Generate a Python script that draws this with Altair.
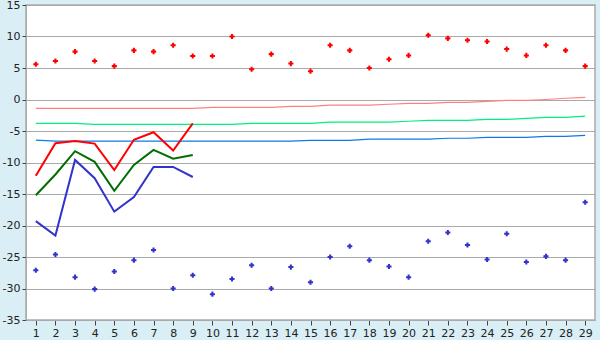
import altair as alt
import pandas as pd

days = list(range(1, 30))

# Daily extreme values (markers)
extreme_max = [5.6, 6.1, 7.6, 6.1, 5.3, 7.8, 7.6, 8.6, 6.9, 6.9, 10.0, 4.8, 7.2, 5.7,
               4.5, 8.6, 7.8, 5.0, 6.4, 7.0, 10.2, 9.7, 9.4, 9.2, 8.0, 7.0, 8.6, 7.8, 5.3]
extreme_min = [-27.1, -24.6, -28.2, -30.1, -27.3, -25.5, -23.9, -30.0, -27.9, -30.9, -28.5,
               -26.3, -30.0, -26.6, -29.0, -25.0, -23.3, -25.5, -26.5, -28.2, -22.5, -21.1,
               -23.1, -25.4, -21.3, -25.8, -24.9, -25.5, -16.3]

# Observed daily series (days 1-9)
obs_days = [1, 2, 3, 4, 5, 6, 7, 8, 9]
obs_max = [-12.1, -6.95, -6.6, -7.0, -11.2, -6.4, -5.2, -8.1, -3.8]
obs_mean = [-15.2, -11.9, -8.2, -9.9, -14.5, -10.4, -8.0, -9.4, -8.8]
obs_min = [-19.3, -21.6, -9.6, -12.5, -17.8, -15.5, -10.7, -10.7, -12.3]

# Normals
norm_max = [-1.4, -1.4, -1.4, -1.4, -1.4, -1.4, -1.4, -1.4, -1.4, -1.25, -1.25, -1.25, -1.25,
            -1.1, -1.1, -0.9, -0.9, -0.9, -0.75, -0.6, -0.6, -0.45, -0.45, -0.3, -0.15,
            -0.15, 0.0, 0.2, 0.35]
norm_mean = [-3.8, -3.8, -3.8, -3.95, -3.95, -3.95, -3.95, -3.95, -3.95, -3.95, -3.95,
             -3.8, -3.8, -3.8, -3.8, -3.6, -3.6, -3.6, -3.6, -3.45, -3.3, -3.3, -3.3,
             -3.15, -3.15, -3.0, -2.85, -2.85, -2.65]
norm_min = [-6.45, -6.6, -6.6, -6.6, -6.6, -6.6, -6.6, -6.6, -6.6, -6.6, -6.6, -6.6, -6.6,
            -6.6, -6.5, -6.5, -6.5, -6.3, -6.3, -6.3, -6.3, -6.15, -6.15, -6.0, -6.0, -6.0,
            -5.85, -5.85, -5.7]

y_ticks = [-35, -30, -25, -20, -15, -10, -5, 0, 5, 10, 15]

full = pd.DataFrame({"day": days, "ext_max": extreme_max, "ext_min": extreme_min,
                     "n_max": norm_max, "n_mean": norm_mean, "n_min": norm_min})
obs = pd.DataFrame({"day": obs_days, "o_max": obs_max, "o_mean": obs_mean, "o_min": obs_min})

x = alt.X("day:Q", scale=alt.Scale(domain=[0.5, 29.5], nice=False, zero=False),
          axis=alt.Axis(values=days, title=None, grid=False, tickSize=5, labelFontSize=11,
                        labelColor="#222222", tickColor="#444444", domainColor="#AAAAAA",
                        labelPadding=2, labelFont="DejaVu Sans", labelFlush=False))
yscale = alt.Scale(domain=[-35, 15], nice=False, zero=False)
yaxis = alt.Axis(values=y_ticks, title=None, grid=True, gridColor="#AAAAAA", gridOpacity=1,
                 tickSize=4, labelFontSize=11, labelColor="#222222", tickColor="#444444",
                 domainColor="#AAAAAA", labelPadding=2, labelFont="DejaVu Sans",
                 labelExpr="datum.value + ''", labelFlush=False)

base = alt.Chart(full)

def yenc(field):
    return alt.Y(f"{field}:Q", scale=yscale, axis=yaxis)

layers = [
    base.mark_line(color="#FF8080", strokeWidth=1.2).encode(x=x, y=yenc("n_max")),
    base.mark_line(color="#00F080", strokeWidth=1.2).encode(x=x, y=yenc("n_mean")),
    base.mark_line(color="#0A7AE8", strokeWidth=1.2).encode(x=x, y=yenc("n_min")),
    alt.Chart(obs).mark_line(color="#FF0000", strokeWidth=2).encode(x=x, y=yenc("o_max")),
    alt.Chart(obs).mark_line(color="#006E00", strokeWidth=2).encode(x=x, y=yenc("o_mean")),
    alt.Chart(obs).mark_line(color="#3333CC", strokeWidth=2).encode(x=x, y=yenc("o_min")),
    base.mark_point(shape="cross", filled=True, size=26, color="#FF0000", opacity=1).encode(x=x, y=yenc("ext_max")),
    base.mark_point(shape="cross", filled=True, size=26, color="#3333CC", opacity=1).encode(x=x, y=yenc("ext_min")),
]

chart = alt.layer(*layers).resolve_axis(y="shared").properties(
    width=569, height=315,
    autosize=alt.AutoSizeParams(type="none"),
    padding={"left": 26, "top": 5, "right": 5, "bottom": 20},
    background="#DAEEF5",
).configure_view(fill="#FFFFFF", stroke="#AAAAAA", strokeWidth=1.5)

chart.save("out.html", embed_options={"renderer": "svg", "actions": False})
